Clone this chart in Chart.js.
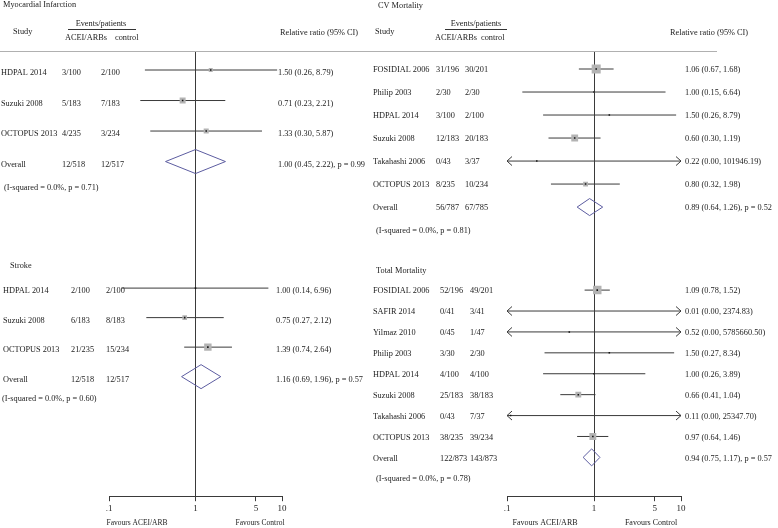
<!DOCTYPE html>
<html>
<head>
<meta charset="utf-8">
<script src="https://cdn.jsdelivr.net/npm/chart.js@4"></script>
<style>
    html, body { margin: 0; padding: 0; background: #fff; }
    #wrap { position: relative; width: 778px; height: 528px; overflow: hidden; }
    canvas { position: absolute; top: 0; }
</style>
</head>
<body>
<div id="wrap">
    <canvas id="leftChart" width="372" height="528" style="left:0"></canvas>
    <canvas id="rightChart" width="406" height="528" style="left:372px"></canvas>
</div>
<script>
const xTicks = [0.1, 1, 5, 10]
const xTickLabels = ['.1', '1', '5', '10']

// Myocardial infarction
const miStudy = ['HDPAL 2014', 'Suzuki 2008', 'OCTOPUS 2013']
const miAcei = ['3/100', '5/183', '4/235']
const miCtrl = ['2/100', '7/183', '3/234']
const miRR = [1.50, 0.71, 1.33]
const miLo = [0.26, 0.23, 0.30]
const miHi = [8.79, 2.21, 5.87]
const miWeight = [21, 46, 33]
const miPooled = [1.00, 0.45, 2.22, 0.99] // rr, lo, hi, p
const miTotals = ['12/518', '12/517']
const miHet = [0.0, 0.71]

// Stroke
const stStudy = ['HDPAL 2014', 'Suzuki 2008', 'OCTOPUS 2013']
const stAcei = ['2/100', '6/183', '21/235']
const stCtrl = ['2/100', '8/183', '15/234']
const stRR = [1.00, 0.75, 1.39]
const stLo = [0.14, 0.27, 0.74]
const stHi = [6.96, 2.12, 2.64]
const stWeight = [1, 28, 71]
const stPooled = [1.16, 0.69, 1.96, 0.57]
const stTotals = ['12/518', '12/517']
const stHet = [0.0, 0.60]

// CV mortality
const cvStudy = ['FOSIDIAL 2006', 'Philip 2003', 'HDPAL 2014', 'Suzuki 2008', 'Takahashi 2006', 'OCTOPUS 2013']
const cvAcei = ['31/196', '2/30', '3/100', '12/183', '0/43', '8/235']
const cvCtrl = ['30/201', '2/30', '2/100', '20/183', '3/37', '10/234']
const cvRR = [1.06, 1.00, 1.50, 0.60, 0.22, 0.80]
const cvLo = [0.67, 0.15, 0.26, 0.30, 0.00, 0.32]
const cvHi = [1.68, 6.64, 8.79, 1.19, 101946.19, 1.98]
const cvWeight = [52, 1, 1, 30, 1, 15]
const cvPooled = [0.89, 0.64, 1.26, 0.52]
const cvTotals = ['56/787', '67/785']
const cvHet = [0.0, 0.81]

// Total mortality
const tmStudy = ['FOSIDIAL 2006', 'SAFIR 2014', 'Yilmaz 2010', 'Philip 2003', 'HDPAL 2014', 'Suzuki 2008', 'Takahashi 2006', 'OCTOPUS 2013']
const tmAcei = ['52/196', '0/41', '0/45', '3/30', '4/100', '25/183', '0/43', '38/235']
const tmCtrl = ['49/201', '3/41', '1/47', '2/30', '4/100', '38/183', '7/37', '39/234']
const tmRR = [1.09, 0.01, 0.52, 1.50, 1.00, 0.66, 0.11, 0.97]
const tmLo = [0.78, 0.00, 0.00, 0.27, 0.26, 0.41, 0.00, 0.64]
const tmHi = [1.52, 2374.83, 5785660.50, 8.34, 3.89, 1.04, 25347.70, 1.46]
const tmWeight = [46, 0.4, 0.4, 0.4, 0.4, 22, 0.4, 30]
const tmPooled = [0.94, 0.75, 1.17, 0.57]
const tmTotals = ['122/873', '143/873']
const tmHet = [0.0, 0.78]

const X_MIN = 0.1
const X_MAX = 10
const PLOT_TOP = 51
const PLOT_BOTTOM = 496
const FONT = '"Liberation Serif", "Times New Roman", serif'
const FS = 8.3
const TEXT = '#222'
const LINE = '#3a3a3a'

const sections = {
    mi: { id: 'yMI', title: 'Myocardial Infarction', study: miStudy, acei: miAcei, ctrl: miCtrl, rr: miRR, lo: miLo, hi: miHi,
        weight: miWeight, pooled: miPooled, totals: miTotals, het: miHet,
        firstY: 70, stepY: 30.5, titleX: 3, titleY: 5, labelX: 1, aceiX: 62, ctrlX: 101, ciX: 278, hetX: 4, hetDy: 23 },
    st: { id: 'yST', title: 'Stroke', study: stStudy, acei: stAcei, ctrl: stCtrl, rr: stRR, lo: stLo, hi: stHi,
        weight: stWeight, pooled: stPooled, totals: stTotals, het: stHet,
        firstY: 288, stepY: 29.5, titleX: 10, titleY: 266, labelX: 3, aceiX: 71, ctrlX: 106, ciX: 276, hetX: 2, hetDy: 19 },
    cv: { id: 'yCV', title: 'CV Mortality', study: cvStudy, acei: cvAcei, ctrl: cvCtrl, rr: cvRR, lo: cvLo, hi: cvHi,
        weight: cvWeight, pooled: cvPooled, totals: cvTotals, het: cvHet,
        firstY: 69, stepY: 23, titleX: 6, titleY: 6, labelX: 1, aceiX: 64, ctrlX: 93, ciX: 313, hetX: 4, hetDy: 23 },
    tm: { id: 'yTM', title: 'Total Mortality', study: tmStudy, acei: tmAcei, ctrl: tmCtrl, rr: tmRR, lo: tmLo, hi: tmHi,
        weight: tmWeight, pooled: tmPooled, totals: tmTotals, het: tmHet,
        firstY: 290, stepY: 20.9, titleX: 4, titleY: 271, labelX: 1, aceiX: 68, ctrlX: 98, ciX: 313, hetX: 4, hetDy: 20 },
}

const leftPanel = {
    canvas: 'leftChart', padLeft: 109, padRight: 90, boxK: 0.88, diamondPx: 12, textDy: 3,
    head: { studyX: 13, eventsX: 101, lineFrom: 68, lineTo: 136, aceiX: 65, ctrlX: 115, rrX: 280 },
    ruleTo: 372, favours: [137, 260], favoursSize: 7.5,
    sections: [sections.mi, sections.st],
}
const rightPanel = {
    canvas: 'rightChart', padLeft: 135, padRight: 97, boxK: 1.25, diamondPx: 8.5, textDy: 1,
    head: { studyX: 3, eventsX: 104, lineFrom: 73, lineTo: 135, aceiX: 63, ctrlX: 109, rrX: 298 },
    ruleTo: 345, favours: [173, 279], favoursSize: 8,
    sections: [sections.cv, sections.tm],
}

function clip(v) {
    return Math.min(X_MAX, Math.max(X_MIN, v))
}
function fmt(v) {
    return v.toFixed(2)
}

function chevron(ctx, tipX, y, dir) {
    ctx.beginPath()
    ctx.moveTo(tipX + dir * 5, y - 4.5)
    ctx.lineTo(tipX, y)
    ctx.lineTo(tipX + dir * 5, y + 4.5)
    ctx.stroke()
}

function makeChart(panel) {
    const scales = {
        x: {
            type: 'logarithmic',
            min: X_MIN,
            max: X_MAX,
            bounds: 'data',
            afterBuildTicks: (scale) => {
                scale.ticks = xTicks.map((v) => ({ value: v }))
            },
            ticks: {
                callback: (value, index) => xTickLabels[index],
                font: { family: FONT, size: 9 },
                color: TEXT,
                padding: 2,
                autoSkip: false,
                maxRotation: 0,
                minRotation: 0,
            },
            grid: {
                color: (c) => (c.tick && c.tick.value === 1 ? LINE : 'rgba(0,0,0,0)'),
                tickColor: LINE,
                tickLength: 5,
                lineWidth: 1,
            },
            border: { display: true, color: LINE, width: 1 },
        },
    }
    const datasets = []
    const plotH = PLOT_BOTTOM - PLOT_TOP

    panel.sections.forEach((sec) => {
        const min = -(sec.firstY - PLOT_TOP) / sec.stepY
        scales[sec.id] = { type: 'linear', display: false, reverse: true, bounds: 'data', min: min, max: min + plotH / sec.stepY }

        sec.study.forEach((name, i) => {
            datasets.push({
                yAxisID: sec.id,
                order: 3,
                showLine: true,
                data: [{ x: clip(sec.lo[i]), y: i }, { x: clip(sec.hi[i]), y: i }],
                borderColor: LINE,
                borderWidth: 1,
                pointRadius: 0,
            })
        })
        datasets.push({
            yAxisID: sec.id,
            order: 2,
            data: sec.rr.map((v, i) => ({ x: v, y: i })),
            pointStyle: 'rect',
            pointRadius: sec.weight.map((w) => (panel.boxK * Math.sqrt(w)) / Math.SQRT2),
            backgroundColor: '#b3b3b3',
            borderWidth: 0,
        })
        datasets.push({
            yAxisID: sec.id,
            order: 1,
            data: sec.rr.map((v, i) => ({ x: v, y: i })),
            pointStyle: 'rect',
            pointRadius: 1.1,
            backgroundColor: '#111',
            borderWidth: 0,
        })
        const n = sec.study.length
        const d = panel.diamondPx / sec.stepY
        const [prr, plo, phi] = sec.pooled
        datasets.push({
            yAxisID: sec.id,
            order: 3,
            showLine: true,
            data: [{ x: plo, y: n }, { x: prr, y: n - d }, { x: phi, y: n }, { x: prr, y: n + d }, { x: plo, y: n }],
            borderColor: '#5c5ca0',
            borderWidth: 1,
            pointRadius: 0,
        })
    })

    const arrows = {
        id: 'arrows',
        afterDatasetsDraw(chart) {
            const ctx = chart.ctx
            const x = chart.scales.x
            ctx.save()
            ctx.strokeStyle = LINE
            ctx.lineWidth = 1
            panel.sections.forEach((sec) => {
                const y = chart.scales[sec.id]
                sec.study.forEach((s, i) => {
                    const py = y.getPixelForValue(i)
                    if (sec.lo[i] < X_MIN) chevron(ctx, x.getPixelForValue(X_MIN), py, 1)
                    if (sec.hi[i] > X_MAX) chevron(ctx, x.getPixelForValue(X_MAX), py, -1)
                })
            })
            ctx.restore()
        },
    }

    const labels = {
        id: 'labels',
        afterDraw(chart) {
            const ctx = chart.ctx
            const h = panel.head
            ctx.save()
            ctx.fillStyle = TEXT
            ctx.textBaseline = 'middle'
            ctx.font = `${FS}px ${FONT}`

            // header
            ctx.textAlign = 'left'
            ctx.fillText('Study', h.studyX, 32)
            ctx.fillText('ACEI/ARBs', h.aceiX, 38)
            ctx.fillText('control', h.ctrlX, 38)
            ctx.fillText('Relative ratio (95% CI)', h.rrX, 33)
            ctx.textAlign = 'center'
            ctx.fillText('Events/patients', h.eventsX, 24)
            ctx.strokeStyle = '#333'
            ctx.lineWidth = 1
            ctx.beginPath()
            ctx.moveTo(h.lineFrom, 29.5)
            ctx.lineTo(h.lineTo, 29.5)
            ctx.stroke()
            ctx.strokeStyle = '#b0b0b0'
            ctx.beginPath()
            ctx.moveTo(0, PLOT_TOP + 0.5)
            ctx.lineTo(panel.ruleTo, PLOT_TOP + 0.5)
            ctx.stroke()

            ctx.textAlign = 'left'
            panel.sections.forEach((sec) => {
                const y = chart.scales[sec.id]
                ctx.fillText(sec.title, sec.titleX, sec.titleY)
                sec.study.forEach((name, i) => {
                    const py = y.getPixelForValue(i) + panel.textDy
                    ctx.fillText(name, sec.labelX, py)
                    ctx.fillText(sec.acei[i], sec.aceiX, py)
                    ctx.fillText(sec.ctrl[i], sec.ctrlX, py)
                    ctx.fillText(`${fmt(sec.rr[i])} (${fmt(sec.lo[i])}, ${fmt(sec.hi[i])})`, sec.ciX, py)
                })
                const n = sec.study.length
                const po = y.getPixelForValue(n) + panel.textDy
                const [prr, plo, phi, pp] = sec.pooled
                ctx.fillText('Overall', sec.labelX, po)
                ctx.fillText(sec.totals[0], sec.aceiX, po)
                ctx.fillText(sec.totals[1], sec.ctrlX, po)
                ctx.fillText(`${fmt(prr)} (${fmt(plo)}, ${fmt(phi)}), p = ${fmt(pp)}`, sec.ciX, po)
                ctx.fillText(`(I-squared = ${sec.het[0].toFixed(1)}%, p = ${fmt(sec.het[1])})`, sec.hetX, po + sec.hetDy)
            })

            ctx.textAlign = 'center'
            ctx.font = `${panel.favoursSize}px ${FONT}`
            ctx.fillText('Favours ACEI/ARB', panel.favours[0], 523)
            ctx.fillText('Favours Control', panel.favours[1], 523)
            ctx.restore()
        },
    }

    return new Chart(document.getElementById(panel.canvas), {
        type: 'scatter',
        data: { datasets: datasets },
        options: {
            responsive: false,
            animation: false,
            events: [],
            layout: { padding: { top: PLOT_TOP, bottom: 12, left: panel.padLeft, right: panel.padRight } },
            plugins: { legend: { display: false }, tooltip: { enabled: false } },
            scales: scales,
        },
        plugins: [arrows, labels],
    })
}

makeChart(leftPanel)
makeChart(rightPanel)
</script>
</body>
</html>
